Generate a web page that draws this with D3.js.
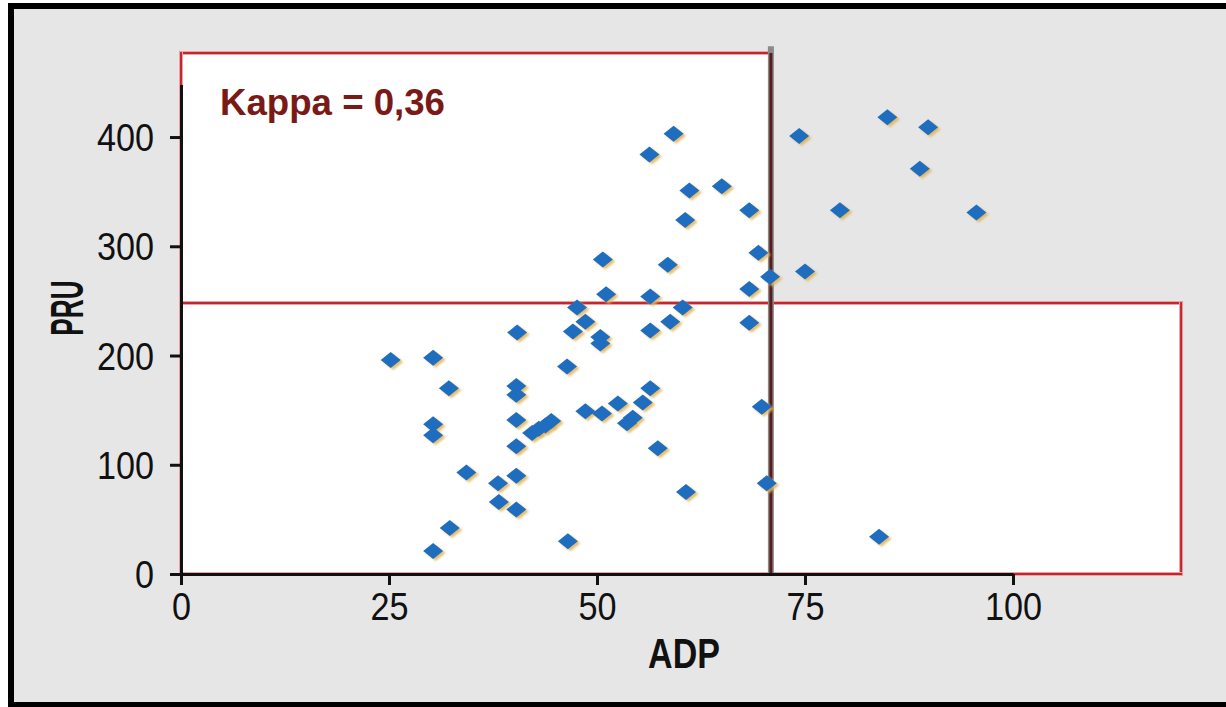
<!DOCTYPE html>
<html>
<head>
<meta charset="utf-8">
<script src="https://cdn.jsdelivr.net/npm/d3@7"></script>
<style>
  html, body { margin: 0; padding: 0; background: #fff; }
  svg { display: block; }
  .tick text { font-family: "Liberation Sans", Arial, sans-serif; font-size: 38px; fill: #111; }
</style>
</head>
<body>
<div id="chart"></div>
<script>
// ADP vs PRU, one diamond per subject
const adp = [25.2, 30.3, 32.2, 30.3, 30.3, 34.3, 30.3, 32.3, 38.1, 38.2, 40.3, 40.3, 40.3, 40.3, 40.3, 40.3,
  40.4, 42.2, 43.0, 43.8, 44.5, 46.4, 46.5, 47.6, 48.6, 47.1, 50.4, 50.4, 50.7, 51.1, 48.6, 50.6, 52.5,
  55.5, 56.4, 53.6, 54.3, 57.3, 56.4, 60.3, 58.8, 56.4, 56.3, 59.2, 61.1, 60.6, 58.5, 65.0, 68.3, 69.4,
  70.8, 68.3, 68.3, 74.3, 84.9, 89.8, 88.8, 79.2, 95.6, 75.0, 69.8, 70.4, 60.7, 83.9];
const pru = [196, 198, 170, 137, 127, 93, 21, 42, 83, 66, 90, 59, 117, 141, 172, 164,
  221, 129, 133, 136, 140, 190, 30, 244, 231, 222, 217, 211, 288, 256, 149, 147, 156,
  157, 170, 138, 143, 115, 254, 244, 231, 223, 384, 403, 351, 324, 283, 355, 333, 294,
  272, 261, 230, 401, 418, 409, 371, 333, 331, 277, 153, 83, 75, 34];

const xTicks = [0, 25, 50, 75, 100];
const yTicks = [0, 100, 200, 300, 400];
const adpCut = 70.9;   // vertical cut-off
const pruCut = 248;    // horizontal cut-off
const boxRight = 120.2;
const boxTop = 477;
const lineTop = 483;
const kappaLabel = "Kappa = 0,36";

const W = 1226, H = 707;
const svg = d3.select("#chart").append("svg").attr("width", W).attr("height", H);

const defs = svg.append("defs");
defs.append("filter").attr("id", "soft").attr("x", "-50%").attr("y", "-50%").attr("width", "200%").attr("height", "200%")
  .append("feGaussianBlur").attr("stdDeviation", 1.3);

// panel background + frame
svg.append("rect").attr("x", 11).attr("y", 6).attr("width", W + 10).attr("height", H - 8)
  .attr("fill", "#e6e6e6").attr("stroke", "#000").attr("stroke-width", 6);

const x = d3.scaleLinear().domain([0, 100]).range([181, 1013]);
const y = d3.scaleLinear().domain([0, 448]).range([574, 84.6]);

// white agreement zones
const zones = svg.append("g");
zones.append("rect")
  .attr("x", x(0)).attr("y", y(boxTop))
  .attr("width", x(adpCut) - x(0)).attr("height", y(0) - y(boxTop))
  .attr("fill", "#fff");
zones.append("rect")
  .attr("x", x(adpCut)).attr("y", y(pruCut))
  .attr("width", x(boxRight) - x(adpCut)).attr("height", y(0) - y(pruCut))
  .attr("fill", "#fff");

// red outlines
const red = "#c4262e";
const outline = [
  [[0, boxTop], [adpCut, boxTop]],
  [[0, boxTop], [0, 0]],
  [[0, pruCut], [boxRight, pruCut]],
  [[boxRight, pruCut], [boxRight, 0]],
  [[0, 0], [boxRight, 0]]
];
const redG = svg.append("g");
outline.forEach(seg => {
  redG.append("line")
    .attr("x1", x(seg[0][0])).attr("y1", y(seg[0][1]))
    .attr("x2", x(seg[1][0])).attr("y2", y(seg[1][1]))
    .attr("stroke", "#e9a3a6").attr("stroke-width", 4).attr("stroke-linecap", "square");
  redG.append("line")
    .attr("x1", x(seg[0][0])).attr("y1", y(seg[0][1]))
    .attr("x2", x(seg[1][0])).attr("y2", y(seg[1][1]))
    .attr("stroke", red).attr("stroke-width", 2).attr("stroke-linecap", "square");
});

// vertical cut-off line
svg.append("line")
  .attr("x1", x(adpCut)).attr("x2", x(adpCut)).attr("y1", y(lineTop)).attr("y2", y(0))
  .attr("stroke", "#8a8a8a").attr("stroke-width", 6);
svg.append("line")
  .attr("x1", x(adpCut)).attr("x2", x(adpCut)).attr("y1", y(boxTop)).attr("y2", y(0))
  .attr("stroke", "#5a1c1a").attr("stroke-width", 3);

// axes
const xAxis = svg.append("g").attr("transform", `translate(0,${y(0)})`)
  .call(d3.axisBottom(x).tickValues(xTicks).tickSize(11).tickSizeOuter(0).tickPadding(8));
const yAxis = svg.append("g").attr("transform", `translate(${x(0)},0)`)
  .call(d3.axisLeft(y).tickValues(yTicks).tickSize(11).tickSizeOuter(0));
[xAxis, yAxis].forEach(a => {
  a.select(".domain").attr("stroke", "#111").attr("stroke-width", 3);
  a.selectAll(".tick line").attr("stroke", "#111").attr("stroke-width", 3);
});
// narrow the tick labels a little (the original uses a condensed face)
xAxis.selectAll(".tick text").attr("transform", "scale(0.9,1)");
yAxis.selectAll(".tick text").attr("x", -30).attr("dy", "0.36em").attr("transform", "scale(0.9,1)");

// axis titles
svg.append("text").attr("transform", "translate(684,668) scale(0.81,1)").attr("text-anchor", "middle")
  .attr("font-family", "Liberation Sans, Arial, sans-serif").attr("font-weight", "bold")
  .attr("font-size", 42).attr("fill", "#111").text("ADP");
svg.append("text").attr("transform", "translate(83,308) rotate(-90) scale(0.57,1)").attr("text-anchor", "middle")
  .attr("font-family", "Liberation Sans, Arial, sans-serif").attr("font-weight", "bold")
  .attr("font-size", 46).attr("fill", "#111").text("PRU");

// kappa annotation
svg.append("text").attr("x", 220).attr("y", 115)
  .attr("font-family", "Liberation Sans Narrow, Liberation Sans, Arial, sans-serif").attr("font-weight", "bold")
  .attr("font-size", 37).attr("fill", "#7a1a16")
  .attr("textLength", 225).attr("lengthAdjust", "spacingAndGlyphs")
  .text(kappaLabel);

// diamonds
const diamond = "M0,-8L10,0L0,8L-10,0Z";
const pts = adp.map((d, i) => ({ a: d, p: pru[i] }));
const dots = svg.append("g");
dots.selectAll("path.shadow").data(pts).enter().append("path")
  .attr("class", "shadow").attr("d", diamond)
  .attr("transform", d => `translate(${x(d.a) + 2.5},${y(d.p) + 2})`)
  .attr("fill", "#e2b45a").attr("opacity", 0.85).attr("filter", "url(#soft)");
dots.selectAll("path.dot").data(pts).enter().append("path")
  .attr("class", "dot").attr("d", diamond)
  .attr("transform", d => `translate(${x(d.a)},${y(d.p)})`)
  .attr("fill", "#1f6dbf");
</script>
</body>
</html>
